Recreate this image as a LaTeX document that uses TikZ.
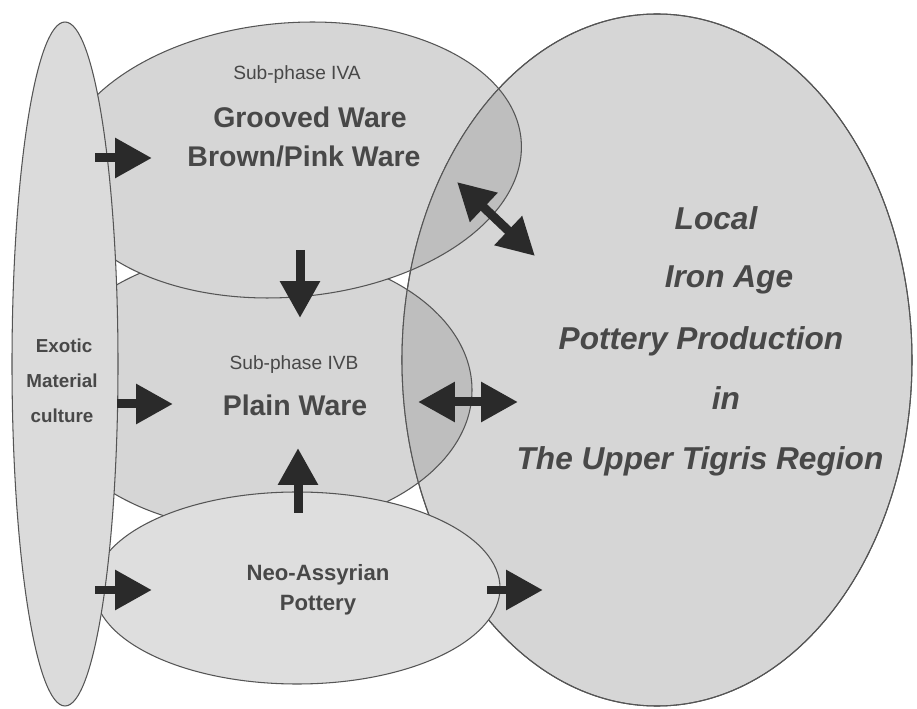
\documentclass[tikz,border=0pt]{standalone}
\usepackage{fontspec}
\setmainfont{Liberation Sans}
\usepackage{tikz}
\usetikzlibrary{arrows.meta}
\definecolor{blobfill}{RGB}{214,214,214}
\definecolor{blobneo}{RGB}{222,222,222}
\definecolor{blobexo}{RGB}{219,219,219}
\definecolor{blobmix}{RGB}{190,190,190}
\definecolor{blobline}{RGB}{85,85,85}
\definecolor{txtgray}{RGB}{72,72,72}
\definecolor{arrowdark}{RGB}{42,42,42}
\newcommand{\txtsize}[1]{\fontsize{#1}{1.2\dimexpr#1\relax}\selectfont}
\tikzset{
  blob/.style={fill=blobfill, draw=blobline, line width=0.6pt},
  blobedge/.style={draw=blobline, line width=0.6pt},
  fatarrow/.style={-{Triangle[length=0.74cm, width=0.76cm]},
    line width=0.18cm, color=arrowdark},
  fatdouble/.style={{Triangle[length=0.74cm, width=0.76cm]}-{Triangle[length=0.74cm, width=0.76cm]},
    line width=0.18cm, color=arrowdark},
  lbl/.style={anchor=base, inner sep=0pt, text=txtgray},
  subtxt/.style={lbl, font=\txtsize{10.9pt}},
  waretxt/.style={lbl, font=\txtsize{16.2pt}\bfseries},
  sidetxt/.style={lbl, font=\txtsize{10.7pt}\bfseries},
  neotxt/.style={lbl, font=\txtsize{12.6pt}\bfseries},
  localtxt/.style={lbl, font=\txtsize{18pt}\bfseries\itshape}
}

\begin{document}
\begin{tikzpicture}[x=0.02cm, y=-0.02cm]
  \path[use as bounding box, fill=white] (0,0) rectangle (917,709);

  % --- Sub-phase ellipses ---
  \draw[blob] (258,390) ellipse [x radius=214, y radius=140];
  \draw[blob, rotate around={5:(290,160)}] (290,160) ellipse [x radius=232, y radius=137];

  % --- Local production ---
  \draw[blob] (657,360) ellipse [x radius=255, y radius=346];

  % Overlaps with the local production
  \begin{scope}
    \clip (657,360) ellipse [x radius=255, y radius=346];
    \draw[blobedge, fill=blobmix] (258,390) ellipse [x radius=214, y radius=140];
    \draw[blobedge, fill=blobmix, rotate around={5:(290,160)}] (290,160) ellipse [x radius=232, y radius=137];
  \end{scope}
  \draw[blobedge] (657,360) ellipse [x radius=255, y radius=346];

  % --- Neo-Assyrian and exotic ---
  \draw[blob, fill=blobneo] (297,588) ellipse [x radius=203, y radius=96];
  \draw[blob, fill=blobexo] (65,364) ellipse [x radius=53, y radius=342];

  % Arrow ends
  \coordinate (exoA) at (95,158);
  \coordinate (groA) at (152,158);
  \coordinate (groB) at (300,250);
  \coordinate (plaB) at (300,318);
  \coordinate (exoP) at (117,404);
  \coordinate (plaP) at (173,404);
  \coordinate (neoU) at (298,513);
  \coordinate (plaU) at (298,448);
  \coordinate (exoN) at (95,590);
  \coordinate (neoN) at (152,590);
  \coordinate (plaL) at (418,402);
  \coordinate (locP) at (518,402);
  \coordinate (groL) at (457,182);
  \coordinate (locG) at (535,256);
  \coordinate (neoL) at (487,590);
  \coordinate (locN) at (543,590);

  % Arrows
  \draw[fatarrow] (exoA) -- (groA);
  \draw[fatarrow] (groB) -- (plaB);
  \draw[fatarrow] (exoP) -- (plaP);
  \draw[fatarrow] (neoU) -- (plaU);
  \draw[fatarrow] (exoN) -- (neoN);
  \draw[fatdouble] (plaL) -- (locP);
  \draw[fatdouble] (groL) -- (locG);
  \draw[fatarrow] (neoL) -- (locN);

  % Labels
  \node[subtxt] (subA) at (297,80) {Sub-phase IVA};
  \node[waretxt] (grooved) at (310,128) {Grooved Ware};
  \node[waretxt] (brown) at (304,167) {Brown/Pink Ware};
  \node[subtxt] (subB) at (294,370) {Sub-phase IVB};
  \node[waretxt] (plain) at (295,416) {Plain Ware};
  \node[sidetxt] (exotic) at (64,353) {Exotic};
  \node[sidetxt] (material) at (62,388) {Material};
  \node[sidetxt] (culture) at (62,423) {culture};
  \node[neotxt] (neo) at (318,581) {Neo-Assyrian};
  \node[neotxt] (pottery) at (318,611) {Pottery};
  \node[localtxt] (local) at (716,230) {Local};
  \node[localtxt] (iron) at (729,288) {Iron Age};
  \node[localtxt] (prod) at (701,350) {Pottery Production};
  \node[localtxt] (in) at (726,410) {in};
  \node[localtxt] (tigris) at (700,470) {The Upper Tigris Region};
\end{tikzpicture}
\end{document}
